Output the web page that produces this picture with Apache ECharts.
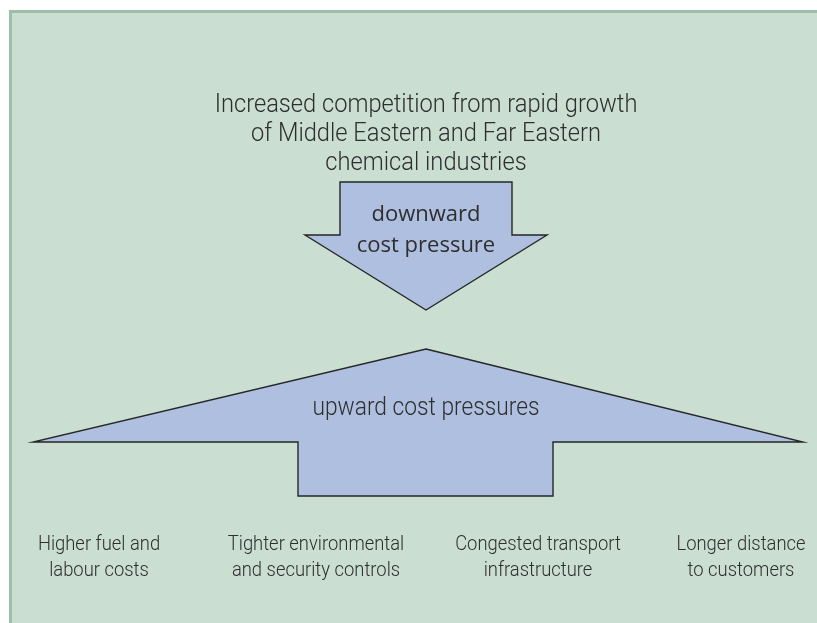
<!DOCTYPE html>
<html>
<head>
<meta charset="utf-8">
<script src="https://cdn.jsdelivr.net/npm/echarts@6/dist/echarts.min.js"></script>
<style>
html,body{margin:0;padding:0;background:#ffffff;}
#chart{width:817px;height:623px;}
</style>
</head>
<body>
<div id="chart"></div>
<script>
// Diagram geometry (in diagram units = reference pixels)
const downArrowPts = [[340,182],[512,182],[512,235],[547,235],[426,310],[305,235],[340,235]];
const upArrowPts = [[426,349],[803,442],[553,442],[553,496],[298,496],[298,442],[33,442]];

const headlineLines = ["Increased competition from rapid growth", "of Middle Eastern and Far Eastern", "chemical industries"];
const headlinePos = [426, 134];
const downLabel = ["downward", "cost pressure"];
const downLabelPos = [426, 230];
const upLabel = ["upward cost pressures"];
const upLabelPos = [426, 408];
const factorLabels = [
  "Higher fuel and\nlabour costs",
  "Tighter environmental\nand security controls",
  "Congested transport\ninfrastructure",
  "Longer distance\nto customers"
];
const factorX = [99, 316, 538, 741];
const factorY = 558;

const chart = echarts.init(document.getElementById('chart'), null, {renderer: 'canvas'});

const arrowFill = '#afbfe0';
const arrowStroke = '#262626';
const textColor = '#2e2e2e';
const condensed = 'Roboto, "Liberation Sans", sans-serif';

function polySeries(name, pts) {
  return {
    type: 'custom',
    name: name,
    coordinateSystem: 'cartesian2d',
    data: [0],
    silent: true,
    renderItem: function (params, api) {
      const points = pts.map(p => api.coord(p));
      return {
        type: 'polygon',
        shape: {points: points},
        style: {fill: arrowFill, stroke: arrowStroke, lineWidth: 1.4, lineJoin: 'miter'}
      };
    }
  };
}

function textSeries(name, items, font, sx) {
  return {
    type: 'custom',
    name: name,
    coordinateSystem: 'cartesian2d',
    data: items.map(it => [it.x, it.y]),
    silent: true,
    z: 10,
    renderItem: function (params, api) {
      const it = items[params.dataIndex];
      const c = api.coord([api.value(0), api.value(1)]);
      return {
        type: 'text',
        x: c[0], y: c[1],
        scaleX: sx || 1,
        style: {
          text: it.text,
          fill: textColor,
          font: font,
          align: 'center',
          verticalAlign: 'middle',
          lineHeight: it.lh
        }
      };
    }
  };
}

const option = {
  backgroundColor: '#ffffff',
  animation: false,
  grid: {left: 0, right: 0, top: 0, bottom: 0},
  xAxis: {type: 'value', min: 0, max: 817, show: false},
  yAxis: {type: 'value', min: 0, max: 623, inverse: true, show: false},
  graphic: [
    {type: 'rect', shape: {x: 10, y: 10, width: 807, height: 613}, style: {fill: '#cbded2'}, z: -10},
    {type: 'rect', shape: {x: 9, y: 10, width: 3, height: 613}, style: {fill: '#9dbfaa'}, z: -9},
    {type: 'rect', shape: {x: 9, y: 10, width: 808, height: 3}, style: {fill: '#9dbfaa'}, z: -9}
  ],
  series: [
    polySeries('down', downArrowPts),
    polySeries('up', upArrowPts),
    textSeries('headline', [{x: headlinePos[0], y: headlinePos[1], text: headlineLines.join('\n'), lh: 29}], '300 26px ' + condensed, 0.91),
    textSeries('downLabel', [{x: downLabelPos[0], y: downLabelPos[1], text: downLabel.join('\n'), lh: 31}], '22px "Open Sans", sans-serif'),
    textSeries('upLabel', [{x: upLabelPos[0], y: upLabelPos[1], text: upLabel.join('\n'), lh: 30}], '300 26px ' + condensed, 0.875),
    textSeries('factors', factorLabels.map((t, i) => ({x: factorX[i], y: factorY, text: t, lh: 26})), '300 20px ' + condensed, 0.92)
  ]
};
chart.setOption(option);
</script>
</body>
</html>
